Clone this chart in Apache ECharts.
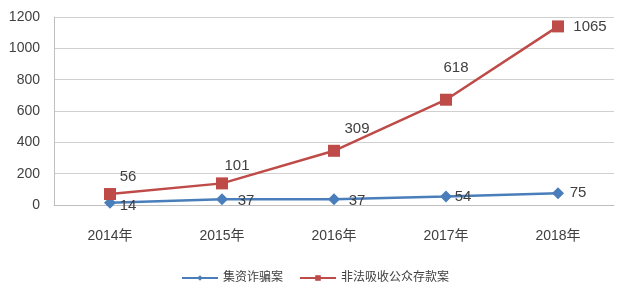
<!DOCTYPE html>
<html><head><meta charset="utf-8">
<script src="https://cdn.jsdelivr.net/npm/echarts@6/dist/echarts.min.js"></script>
<style>html,body{margin:0;padding:0;background:#fff}#c{width:623px;height:287px}</style>
</head><body><div id="c"></div>
<script>
var categories = ['2014年','2015年','2016年','2017年','2018年'];
var fraudCases = [14, 37, 37, 54, 75];
var illegalDeposit = [56, 101, 309, 618, 1065];
var seriesNames = ['集资诈骗案','非法吸收公众存款案'];
var yTicks = [0, 200, 400, 600, 800, 1000, 1200];

var blueOff = [[18,3],[24,2],[23,2],[17,0],[20,0]];
var redOff = [[18,-17],[15,-18],[23,-22],[10,-32],[32,0]];
var font = 'Liberation Sans, Noto Sans CJK SC, sans-serif';

function mk(vals, offs){
  return vals.map(function(v,i){return {value:v, label:{offset:offs[i]}};});
}
var chart = echarts.init(document.getElementById('c'));
chart.setOption({
  animation:false,
  textStyle:{fontFamily:font},
  grid:{left:54,right:9,top:17,bottom:82},
  legend:{bottom:-2,left:176,itemWidth:36,itemHeight:7,itemGap:16,
    textStyle:{fontSize:12,color:'#404040',fontFamily:font},
    data:seriesNames},
  xAxis:{type:'category',data:categories,boundaryGap:true,
    axisLine:{lineStyle:{color:'#bfbfbf'}},axisTick:{show:false},
    axisLabel:{fontSize:14,color:'#404040',margin:24,fontFamily:font}},
  yAxis:{type:'value',min:yTicks[0],max:yTicks[yTicks.length-1],interval:200,
    axisLine:{show:true,lineStyle:{color:'#bfbfbf'}},axisTick:{show:false},
    splitLine:{lineStyle:{color:'#d0d0d0'}},
    axisLabel:{fontSize:14,color:'#404040',margin:14,fontFamily:font,
      formatter:function(v){return String(v);}}},
  series:[
    {name:seriesNames[0],type:'line',stack:'s',data:mk(fraudCases,blueOff),
     symbol:'diamond',symbolSize:12,color:'#4a7ebb',
     lineStyle:{width:2.5,color:'#4a7ebb'},itemStyle:{color:'#4a7ebb'},
     label:{show:true,position:'inside',fontSize:15,color:'#404040',fontFamily:font}},
    {name:seriesNames[1],type:'line',stack:'s',data:mk(illegalDeposit,redOff),
     symbol:'rect',symbolSize:12,color:'#be4b48',
     lineStyle:{width:2.5,color:'#be4b48'},itemStyle:{color:'#be4b48'},
     label:{show:true,position:'inside',fontSize:15,color:'#404040',fontFamily:font}}
  ]
});
</script></body></html>
